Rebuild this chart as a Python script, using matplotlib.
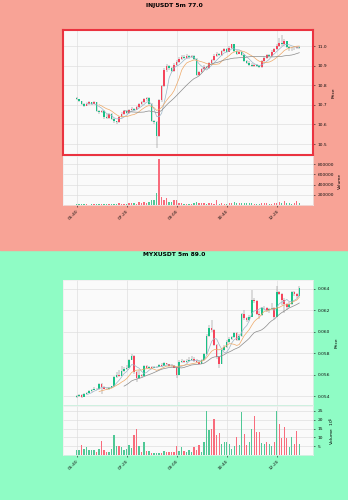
#IMPORT LIBRARIES
import numpy as np
import pandas as pd
import matplotlib
matplotlib.use("Agg")
import matplotlib.pyplot as plt
from matplotlib.patches import Rectangle

#X AXIS TIME LABELS (5 MIN CANDLES, ONE LABEL EVERY 20 CANDLES)
tick_idx = [0, 20, 40, 60, 80]
tick_times = ["05:40", "07:20", "09:00", "10:40", "12:20"]

#INJUSDT 5m - OHLC + VOLUME
inj_o = [10.735,10.728,10.718,10.705,10.695,10.702,10.712,10.705,10.712,10.668,
         10.662,10.670,10.640,10.635,10.652,10.628,10.615,10.612,10.640,10.655,
         10.668,10.660,10.672,10.680,10.675,10.690,10.702,10.715,10.728,10.735,
         10.705,10.615,10.610,10.540,10.725,10.795,10.880,10.900,10.888,10.875,
         10.905,10.920,10.935,10.945,10.940,10.950,10.942,10.948,10.935,10.850,
         10.868,10.885,10.895,10.890,10.912,10.928,10.950,10.960,10.955,10.975,
         10.985,10.972,10.990,11.008,10.975,10.962,10.968,10.955,10.925,10.915,
         10.905,10.900,10.905,10.898,10.895,10.922,10.940,10.955,10.950,10.972,
         10.985,11.000,11.015,11.008,11.025,10.995,10.990,10.988,10.992,10.996]
inj_h = [10.738,10.732,10.722,10.710,10.708,10.718,10.716,10.720,10.715,10.675,
         10.676,10.674,10.655,10.658,10.656,10.632,10.620,10.645,10.662,10.675,
         10.672,10.680,10.688,10.686,10.696,10.708,10.720,10.735,10.742,10.738,
         10.708,10.625,10.615,10.730,10.800,10.890,10.908,10.905,10.895,10.912,
         10.928,10.942,10.952,10.952,10.958,10.955,10.955,10.952,10.938,10.875,
         10.890,10.902,10.900,10.918,10.935,10.958,10.968,10.965,10.982,10.992,
         10.990,10.998,11.012,11.010,10.980,10.975,10.972,10.960,10.930,10.922,
         10.912,10.910,10.910,10.905,10.928,10.948,10.962,10.962,10.980,10.992,
         11.010,11.040,11.056,11.035,11.028,11.000,10.995,10.998,11.000,11.000]
inj_l = [10.725,10.712,10.700,10.690,10.692,10.698,10.700,10.702,10.662,10.655,
         10.658,10.630,10.628,10.630,10.622,10.608,10.600,10.606,10.635,10.650,
         10.652,10.655,10.668,10.670,10.672,10.685,10.698,10.710,10.722,10.700,
         10.610,10.600,10.478,10.535,10.715,10.790,10.870,10.880,10.868,10.870,
         10.898,10.915,10.930,10.935,10.935,10.936,10.938,10.930,10.845,10.845,
         10.862,10.880,10.884,10.885,10.905,10.922,10.945,10.948,10.950,10.970,
         10.968,10.968,10.985,10.970,10.955,10.958,10.950,10.920,10.908,10.898,
         10.895,10.895,10.892,10.890,10.890,10.918,10.935,10.945,10.945,10.968,
         10.980,10.995,11.002,11.002,10.990,10.975,10.975,10.982,10.984,10.986]
inj_c = [10.728,10.718,10.705,10.695,10.702,10.712,10.705,10.712,10.668,10.662,
         10.670,10.640,10.635,10.652,10.628,10.615,10.612,10.640,10.655,10.668,
         10.660,10.672,10.680,10.675,10.690,10.702,10.715,10.728,10.735,10.705,
         10.615,10.610,10.540,10.725,10.795,10.880,10.900,10.888,10.875,10.905,
         10.920,10.935,10.945,10.940,10.950,10.942,10.948,10.935,10.850,10.868,
         10.885,10.895,10.890,10.912,10.928,10.950,10.960,10.955,10.975,10.985,
         10.972,10.990,11.008,10.975,10.962,10.968,10.955,10.925,10.915,10.905,
         10.900,10.905,10.898,10.895,10.922,10.940,10.955,10.950,10.972,10.985,
         11.000,11.015,11.008,11.025,10.995,10.990,10.988,10.992,10.996,10.992]
inj_v = [15000,12000,14000,10000,12000,9000,11000,10000,25000,18000,
         15000,28000,20000,18000,22000,25000,20000,30000,22000,20000,
         18000,45000,38000,30000,25000,50000,48000,52000,45000,60000,
         100000,95000,235000,890000,150000,100000,135000,60000,50000,90000,
         95000,40000,30000,25000,28000,22000,25000,30000,65000,40000,
         35000,30000,25000,35000,30000,28000,100000,22000,30000,25000,
         20000,35000,40000,55000,45000,30000,35000,45000,40000,35000,
         30000,22000,25000,28000,35000,45000,30000,20000,25000,30000,
         35000,55000,40000,80000,45000,30000,25000,30000,80000,30000]

#MYXUSDT 5m - OHLC + VOLUME (VOLUME IN UNITS OF 1e5)
myx_o = [.05390,.05400,.05412,.05395,.05420,.05432,.05445,.05460,.05470,.05462,
         .05515,.05480,.05470,.05465,.05478,.05490,.05575,.05600,.05590,.05635,
         .05650,.05665,.05740,.05775,.05620,.05565,.05600,.05590,.05680,.05665,
         .05672,.05662,.05670,.05675,.05690,.05680,.05705,.05695,.05685,.05678,
         .05665,.05600,.05720,.05728,.05718,.05730,.05740,.05748,.05730,.05722,
         .05700,.05740,.05790,.05960,.06040,.06020,.05880,.05760,.05700,.05830,
         .05860,.05905,.05930,.05950,.05990,.05920,.05960,.06170,.06130,.06110,
         .06140,.06300,.06290,.06170,.06160,.06220,.06225,.06200,.06215,.06225,
         .06140,.06370,.06355,.06300,.06260,.06230,.06260,.06370,.06350,.06330]
myx_h = [.05405,.05418,.05416,.05425,.05440,.05452,.05468,.05480,.05478,.05525,
         .05520,.05495,.05478,.05485,.05498,.05585,.05625,.05640,.05680,.05670,
         .05690,.05750,.05795,.05780,.05635,.05640,.05610,.05690,.05690,.05685,
         .05680,.05678,.05682,.05700,.05712,.05715,.05712,.05702,.05695,.05688,
         .05672,.05735,.05750,.05740,.05745,.05760,.05775,.05760,.05745,.05735,
         .05750,.05800,.05975,.06060,.06110,.06030,.05890,.05770,.05840,.05880,
         .05920,.05950,.05965,.06000,.06000,.05975,.06180,.06200,.06140,.06160,
         .06390,.06320,.06300,.06190,.06235,.06240,.06235,.06225,.06270,.06235,
         .06430,.06380,.06365,.06320,.06270,.06275,.06380,.06385,.06360,.06430]
myx_l = [.05385,.05395,.05380,.05392,.05415,.05428,.05440,.05455,.05455,.05458,
         .05420,.05462,.05458,.05460,.05472,.05485,.05568,.05580,.05585,.05628,
         .05642,.05660,.05735,.05610,.05530,.05555,.05580,.05585,.05655,.05658,
         .05655,.05658,.05665,.05670,.05675,.05676,.05688,.05678,.05670,.05660,
         .05570,.05595,.05710,.05710,.05712,.05722,.05735,.05720,.05710,.05695,
         .05695,.05735,.05785,.05950,.06000,.05870,.05750,.05660,.05695,.05820,
         .05850,.05898,.05920,.05940,.05910,.05910,.05955,.06110,.06090,.06100,
         .06135,.06270,.06160,.06120,.06150,.06200,.06185,.06175,.06200,.06120,
         .06135,.06340,.06250,.06175,.06200,.06225,.06250,.06335,.06320,.06325]
myx_c = [.05402,.05412,.05395,.05420,.05432,.05445,.05460,.05470,.05462,.05515,
         .05480,.05470,.05465,.05478,.05490,.05575,.05600,.05590,.05635,.05650,
         .05665,.05740,.05775,.05620,.05565,.05600,.05590,.05680,.05665,.05672,
         .05662,.05670,.05675,.05690,.05680,.05705,.05695,.05685,.05678,.05665,
         .05600,.05720,.05728,.05718,.05730,.05740,.05748,.05730,.05722,.05700,
         .05740,.05790,.05960,.06040,.06020,.05880,.05760,.05700,.05830,.05860,
         .05905,.05930,.05950,.05990,.05920,.05960,.06170,.06130,.06110,.06140,
         .06300,.06290,.06170,.06160,.06220,.06225,.06200,.06215,.06225,.06140,
         .06370,.06355,.06300,.06260,.06230,.06260,.06370,.06350,.06330,.06410]
myx_v = [2.8,2.8,5.4,3.2,4.3,2.6,2.8,2.6,1.7,3.2,
         8.2,2.6,1.7,1.7,3.2,11.6,5.0,5.0,4.7,2.6,
         3.2,5.4,3.7,11.2,14.6,5.0,1.7,7.1,2.1,2.1,
         1.3,0.9,0.9,0.9,0.9,2.2,1.9,1.9,1.9,1.9,
         5.0,2.2,4.3,2.2,1.7,2.6,1.7,4.3,2.6,5.6,
         1.9,7.3,25.2,14.4,14.8,20.2,11.2,12.7,6.2,7.5,
         7.5,6.2,3.6,5.2,10.3,5.6,24.3,12.1,5.6,7.5,
         15.0,22.4,13.1,13.1,6.9,6.5,7.3,6.2,5.0,7.5,
         24.7,17.8,9.9,15.9,9.7,4.3,10.3,6.2,13.5,6.5]

#COLOURS
GREEN, RED = "#19c086", "#f5455c"
VGREEN, VRED = "#50c896", "#f86c7c"
MAV_WINDOWS = (5, 10, 20)
MAV_COLORS = ("#9cb6c8", "#eea866", "#8a8a8a")
FS = 3.2


def style_axis(ax):
    ax.set_facecolor("#fafafa")
    ax.grid(True, color="#dcdcdc", lw=0.45)
    ax.set_axisbelow(True)
    ax.yaxis.tick_right()
    ax.yaxis.set_label_position("right")
    ax.tick_params(labelsize=FS, length=1.5, width=0.4, pad=1.5, colors="#101010")
    for s in ax.spines.values():
        s.set_color("#ececec")
        s.set_linewidth(0.5)


#DRAW ONE CANDLE CHART (PRICE PANEL + VOLUME PANEL)
def draw_chart(ax_p, ax_v, o, h, l, c, v, up_col, dn_col, vup_col, vdn_col):
    o, h, l, c, v = map(np.array, (o, h, l, c, v))
    x = np.arange(len(c))
    rising = c >= o
    body_cols = np.where(rising, up_col, dn_col)
    vol_cols = np.where(rising, vup_col, vdn_col)

    ax_p.vlines(x, l, h, color="#7a7a7a", lw=0.35, zorder=2)
    ax_p.bar(x, c - o, bottom=o, width=0.62, color=body_cols, lw=0, zorder=3)
    closes = pd.Series(c)
    for w, col in zip(MAV_WINDOWS, MAV_COLORS):
        ax_p.plot(x, closes.rolling(w).mean(), color=col, lw=0.5, zorder=4)

    ax_v.bar(x, v, width=0.55, color=vol_cols, lw=0)

    for ax in (ax_p, ax_v):
        style_axis(ax)
        ax.set_xlim(-5.6, 94.6)
        ax.set_xticks(tick_idx)
    ax_p.tick_params(axis="x", labelbottom=False, length=0)
    ax_v.set_xticklabels(tick_times, rotation=45, ha="right", rotation_mode="anchor")


fig = plt.figure(figsize=(3.48, 5.0), dpi=100)
fig.patch.set_facecolor("#8ffcc5")
fig.patches.append(Rectangle((0, 0.5), 1, 0.5, transform=fig.transFigure,
                             color="#f8a396", zorder=-10))

L, W = 0.1796, 0.7207

#TOP CHART - INJUSDT
ax1 = fig.add_axes([L, 0.69, W, 0.25])
ax1v = fig.add_axes([L, 0.59, W, 0.098])
draw_chart(ax1, ax1v, inj_o, inj_h, inj_l, inj_c, inj_v, RED, GREEN, VRED, VGREEN)
ax1.set_ylim(10.444, 11.082)
ax1.set_yticks([10.5, 10.6, 10.7, 10.8, 10.9, 11.0])
ax1.set_ylabel("Price", fontsize=FS, labelpad=3)
for s in ax1.spines.values():
    s.set_color("#ea3340")
    s.set_linewidth(1.5)
ax1v.set_ylim(0, 958000)
ax1v.set_yticks([200000, 400000, 600000, 800000])
ax1v.set_yticklabels(["200000", "400000", "600000", "800000"])
ax1v.set_ylabel("Volume", fontsize=FS, labelpad=3)
fig.text(0.5, 0.99, "INJUSDT 5m 77.0", ha="center", va="center",
         fontsize=4.3, fontweight="bold")

#BOTTOM CHART - MYXUSDT
ax2 = fig.add_axes([L, 0.19, W, 0.25])
ax2v = fig.add_axes([L, 0.09, W, 0.098])
draw_chart(ax2, ax2v, myx_o, myx_h, myx_l, myx_c, myx_v, GREEN, RED, VGREEN, VRED)
ax2.set_ylim(0.05316, 0.06484)
ax2.set_yticks([0.054, 0.056, 0.058, 0.060, 0.062, 0.064])
ax2.set_yticklabels(["0.054", "0.056", "0.058", "0.060", "0.062", "0.064"])
ax2.set_ylabel("Price", fontsize=FS, labelpad=3)
ax2v.set_ylim(0, 27.8)
ax2v.set_yticks([5, 10, 15, 20, 25])
ax2v.set_ylabel("Volume  $10^{5}$", fontsize=FS, labelpad=3)
fig.text(0.5, 0.49, "MYXUSDT 5m 89.0", ha="center", va="center",
         fontsize=4.3, fontweight="bold")

fig.savefig("out.png", dpi=100)
